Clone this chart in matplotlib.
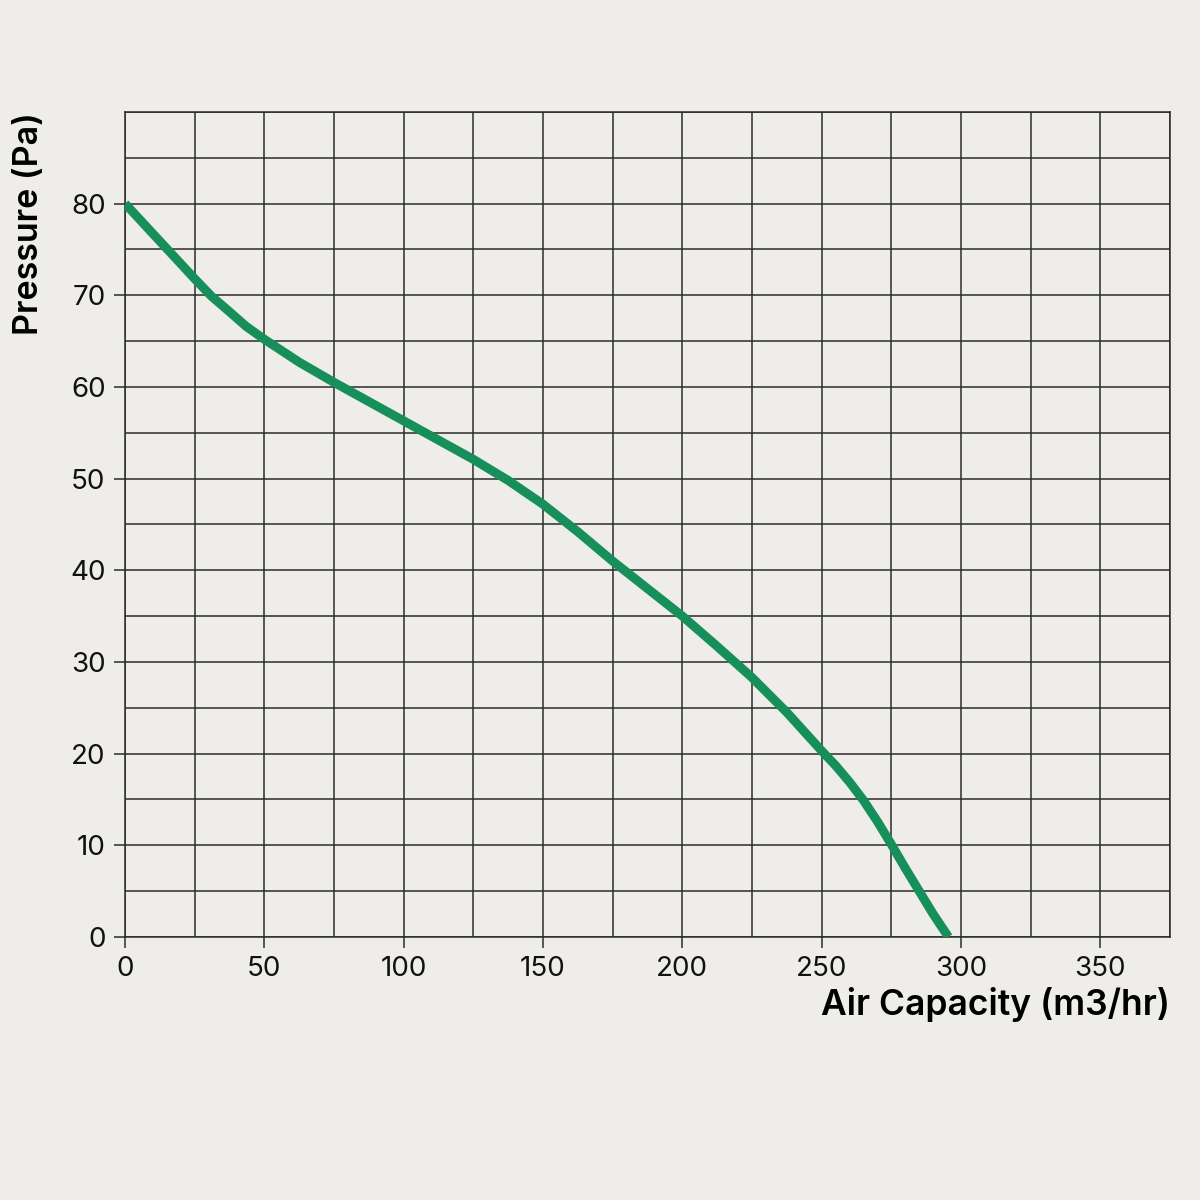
import matplotlib.pyplot as plt
from matplotlib.ticker import MultipleLocator

# fan curve
air_capacity = [0, 12.5, 25, 31, 37.5, 43.5, 50, 62.5, 75, 87.5, 100, 112.5,
                125, 137.5, 150, 162.5, 175, 187.5, 200, 212.5, 225, 237.5,
                250, 255, 260, 265, 270, 275, 280, 285, 290, 295.5]
pressure = [80, 75.9, 71.8, 69.9, 68.2, 66.6, 65.2, 62.7, 60.5, 58.4, 56.3,
            54.2, 52.1, 49.8, 47.2, 44.2, 41, 38, 35, 31.7, 28.3, 24.5,
            20.3, 18.7, 16.9, 14.9, 12.6, 10.1, 7.5, 5, 2.5, 0]

x_ticks = [0, 50, 100, 150, 200, 250, 300, 350]
y_ticks = [0, 10, 20, 30, 40, 50, 60, 70, 80]

BG = "#EEEDE9"
GRID = "#2b2b2b"
GREEN = "#178F5B"

plt.rcParams["font.family"] = ["Inter", "DejaVu Sans"]

fig = plt.figure(figsize=(12, 12), dpi=100, facecolor=BG)
ax = fig.add_axes([0.1042, 0.2192, 0.8708, 0.6875], facecolor=BG)

ax.plot(air_capacity, pressure, color=GREEN, linewidth=6.5,
        solid_capstyle="butt", solid_joinstyle="round", zorder=3)

ax.set_xlim(0, 375)
ax.set_ylim(0, 90)
ax.set_xticks(x_ticks)
ax.set_yticks(y_ticks)
ax.xaxis.set_minor_locator(MultipleLocator(25))
ax.yaxis.set_minor_locator(MultipleLocator(5))

ax.grid(which="both", color=GRID, linewidth=1.1, zorder=1)
ax.set_axisbelow(True)
for side in ["left", "bottom", "top", "right"]:
    ax.spines[side].set_color(GRID)
    ax.spines[side].set_linewidth(1.1)

ax.tick_params(which="major", length=8, width=1.1, color=GRID,
               labelsize=20, pad=6, labelcolor="#111111")
ax.tick_params(which="minor", length=0)

ax.set_ylabel("Pressure (Pa)", fontsize=24.5, fontweight="semibold",
              loc="top", labelpad=18)
ax.set_xlabel("Air Capacity (m3/hr)", fontsize=25.5, fontweight="semibold",
              loc="right", labelpad=3)

fig.savefig("out.png", dpi=100, facecolor=BG)
